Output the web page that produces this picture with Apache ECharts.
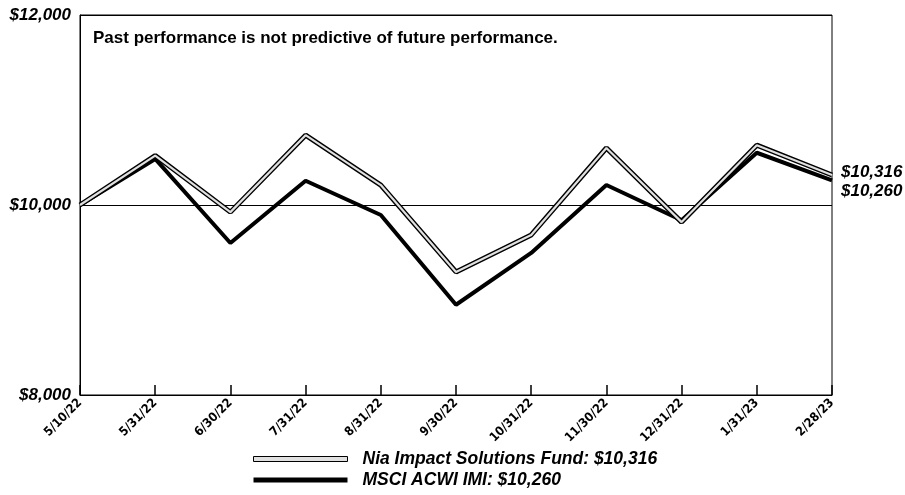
<!DOCTYPE html>
<html>
<head>
<meta charset="utf-8">
<script src="https://cdn.jsdelivr.net/npm/echarts@6/dist/echarts.min.js"></script>
<style>
  html, body { margin: 0; padding: 0; background: #fff; }
  #chart { width: 905px; height: 495px; }
</style>
</head>
<body>
<div id="chart"></div>
<script>
  // dates on the x axis
  const dates = ['5/10/22', '5/31/22', '6/30/22', '7/31/22', '8/31/22', '9/30/22',
    '10/31/22', '11/30/22', '12/31/22', '1/31/23', '2/28/23'];
  // growth of $10,000
  const fundValues = [10000, 10520, 9925, 10735, 10210, 9295, 9685, 10600, 9820, 10630, 10316];
  const indexValues = [10000, 10485, 9600, 10255, 9895, 8950, 9495, 10210, 9840, 10550, 10260];
  const fundName = 'Nia Impact Solutions Fund: $10,316';
  const indexName = 'MSCI ACWI IMI: $10,260';

  const chart = echarts.init(document.getElementById('chart'));
  const boldItalic = {
    fontFamily: 'Liberation Sans',
    fontWeight: 'bold',
    fontStyle: 'italic',
    fontSize: 17,
    color: '#000'
  };

  chart.setOption({
    animation: false,
    title: {
      text: 'Past performance is not predictive of future performance.',
      left: 88,
      top: 25,
      textStyle: {
        fontFamily: 'Liberation Sans',
        fontWeight: 'bold',
        fontSize: 17,
        color: '#000'
      }
    },
    grid: {
      left: 80, right: 73, top: 15, bottom: 100,
      show: true,
      borderColor: '#000',
      borderWidth: 1
    },
    legend: {
      orient: 'vertical',
      left: 253,
      top: 450,
      height: 45,
      padding: 0,
      itemWidth: 94,
      itemHeight: 5,
      itemGap: 3,
      textStyle: Object.assign({}, boldItalic, { fontSize: 17.5, padding: [0, 0, 0, 10] }),
      data: [
        { name: fundName, icon: 'rect', itemStyle: { color: '#e0e0e0', borderColor: '#000', borderWidth: 1 } },
        { name: indexName, icon: 'rect', itemStyle: { color: '#000', borderWidth: 0 } }
      ]
    },
    xAxis: {
      type: 'category',
      data: dates,
      boundaryGap: false,
      axisLine: { lineStyle: { color: '#000', width: 1 } },
      axisTick: { inside: true, length: 10, lineStyle: { color: '#000', width: 1.5 } },
      axisLabel: {
        rotate: 45,
        margin: 6,
        fontFamily: 'DejaVu Sans Condensed',
        fontWeight: 'bold',
        fontSize: 12.5,
        color: '#000'
      }
    },
    yAxis: {
      type: 'value',
      min: 8000,
      max: 12000,
      interval: 2000,
      axisLine: { show: true, lineStyle: { color: '#000' } },
      axisTick: { show: false },
      splitLine: { lineStyle: { color: '#000', width: 1 } },
      axisLabel: Object.assign({
        margin: 9,
        formatter: v => '$' + v.toLocaleString('en-US')
      }, boldItalic)
    },
    series: [
      {
        name: indexName,
        type: 'line',
        data: indexValues,
        showSymbol: false,
        lineStyle: { color: '#000', width: 4 },
        itemStyle: { color: '#000' },
        endLabel: Object.assign({
          show: true,
          distance: 9,
          offset: [0, 11],
          formatter: '$10,260'
        }, boldItalic)
      },
      {
        name: fundName,
        type: 'line',
        data: fundValues,
        showSymbol: false,
        lineStyle: { color: '#000', width: 5 },
        itemStyle: { color: '#000' },
        endLabel: Object.assign({
          show: true,
          distance: 9,
          offset: [0, -3],
          formatter: '$10,316'
        }, boldItalic)
      },
      {
        name: fundName,
        type: 'line',
        data: fundValues,
        showSymbol: false,
        lineStyle: { color: '#e0e0e0', width: 2.2 },
        itemStyle: { color: '#e0e0e0' }
      }
    ]
  });
</script>
</body>
</html>
